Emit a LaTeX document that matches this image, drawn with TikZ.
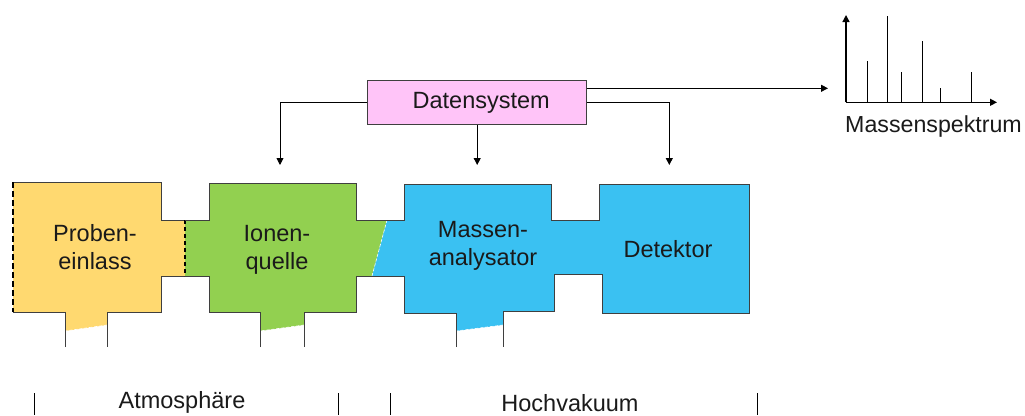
\documentclass[tikz,border=0pt]{standalone}
\usepackage{fontspec}
\setmainfont{Liberation Sans}
\usetikzlibrary{arrows.meta}
\definecolor{yel}{HTML}{FFD970}
\definecolor{grn}{HTML}{92D050}
\definecolor{blu}{HTML}{3AC1F2}
\definecolor{pnk}{HTML}{FFC4F8}
\definecolor{edge}{HTML}{3F3F3F}
\definecolor{txt}{HTML}{1A1A1A}
\begin{document}
\begin{tikzpicture}[x=1pt,y=-1pt,
  lbl/.style={font=\fontsize{23.5}{27.6}\selectfont, align=center, inner sep=0pt, text=txt},
  outline/.style={draw=edge, line width=1pt, line join=miter},
  seam/.style={draw=white, line width=0.6pt, dash pattern=on 3pt off 2pt},
  bound/.style={draw=black, line width=2.6pt, dash pattern=on 6pt off 3pt},
  bound2/.style={draw=black, line width=1.6pt, dash pattern=on 4pt off 3pt},
  arr/.style={draw=black, line width=0.9pt, -{Triangle[length=7pt,width=7pt]}},
  bar/.style={draw=black, line width=0.8pt},
  peak/.style={draw=black, line width=1pt},
  ]
\useasboundingbox (0,0) rectangle (1025,415);

% ---------- fills
\fill[yel] (13,182)--(161,182)--(161,220)--(185,220)--(185,276)--(161,276)--(161,312)--(107,312)--(107,325)--(65,331)--(65,312)--(13,312)--cycle;
\fill[grn] (185,220)--(209,220)--(209,183)--(356,183)--(356,220)--(387,220)--(372,276)--(356,276)--(356,312)--(304,312)--(304,325)--(260,331)--(260,312)--(209,312)--(209,276)--(185,276)--cycle;
\fill[blu] (387,220)--(404,220)--(404,184)--(551,184)--(551,220)--(599,220)--(599,184)--(749,184)--(749,313)--(602,313)--(602,274)--(554,274)--(554,311)--(503,311)--(503,325)--(456,331)--(456,313)--(404,313)--(404,276)--(372,276)--cycle;

% ---------- seams
\draw[seam] (387,220)--(372,276);
\draw[seam] (107,325)--(65,331);
\draw[seam] (304,325)--(260,331);
\draw[seam] (503,325)--(456,331);

% ---------- outlines
\draw[outline] (13,182)--(161,182)--(161,220)--(185,220);
\draw[outline] (185,276)--(161,276)--(161,312)--(107,312)--(107,347);
\draw[outline] (65,347)--(65,312)--(13,312);
\draw[bound] (13,182)--(13,312);
\draw[bound2] (185,220)--(185,276);

\draw[outline] (185,220)--(209,220)--(209,183)--(356,183)--(356,220)--(387,220);
\draw[outline] (372,276)--(356,276)--(356,312)--(304,312)--(304,347);
\draw[outline] (260,347)--(260,312)--(209,312)--(209,276)--(185,276);

\draw[outline] (387,220)--(404,220)--(404,184)--(551,184)--(551,220)--(599,220)--(599,184)--(749,184)--(749,313)--(602,313)--(602,274)--(554,274)--(554,311)--(503,311)--(503,347);
\draw[outline] (456,347)--(456,313)--(404,313)--(404,276)--(372,276);

% ---------- block labels
\node[lbl] (pe) at (95,247) {Proben-\\einlass};
\node[lbl] (iq) at (277,250) {Ionen-\\quelle};
\node[lbl] (ma) at (483,246) {Massen-\\analysator};
\node[lbl] (de) at (668,249) {Detektor};

% ---------- data system
\node[draw=edge, line width=1pt, fill=pnk, minimum width=219pt, minimum height=44pt, inner sep=0pt,
      font=\fontsize{23.5}{27}\selectfont, text=txt] (ds) at (477.2,102.9) {\hspace{8pt}Datensystem};
\coordinate (a1) at (280,165);
\coordinate (a2) at (477.2,165);
\coordinate (a3) at (669.3,165);
\coordinate (sp) at (828,88.3);
\draw[arr] (ds.west) -| (a1);
\draw[arr] (ds.south) -- (a2);
\draw[arr] (ds.east) -| (a3);
\draw[arr] (ds.east |- sp) -- (sp);

% ---------- spectrum
\coordinate (o) at (846,102.3);
\coordinate (ytop) at (846,15);
\coordinate (xend) at (997,102.3);
\draw[arr, line width=1.3pt] (o) -- (ytop);
\draw[arr, line width=1.3pt] (o) -- (xend);
\draw[peak] (867,102.3)--(867,61);
\draw[peak] (887,102.3)--(887,15.7);
\draw[peak] (901.3,102.3)--(901.3,72.3);
\draw[peak] (922.7,102.3)--(922.7,40.7);
\draw[peak] (940,102.3)--(940,88.3);
\draw[peak] (971.7,102.3)--(971.7,72.3);
\node[lbl, font=\fontsize{23.2}{27}\selectfont] (ms) at (933.5,126) {Massenspektrum};

% ---------- bottom scale
\draw[bar] (34,393)--(34,415);
\draw[bar] (338,393)--(338,415);
\draw[bar] (390,393)--(390,415);
\draw[bar] (757,393)--(757,415);
\node[lbl] (at) at (182,402.5) {Atmosphäre};
\node[lbl] (hv) at (570,403.5) {Hochvakuum};
\end{tikzpicture}
\end{document}
